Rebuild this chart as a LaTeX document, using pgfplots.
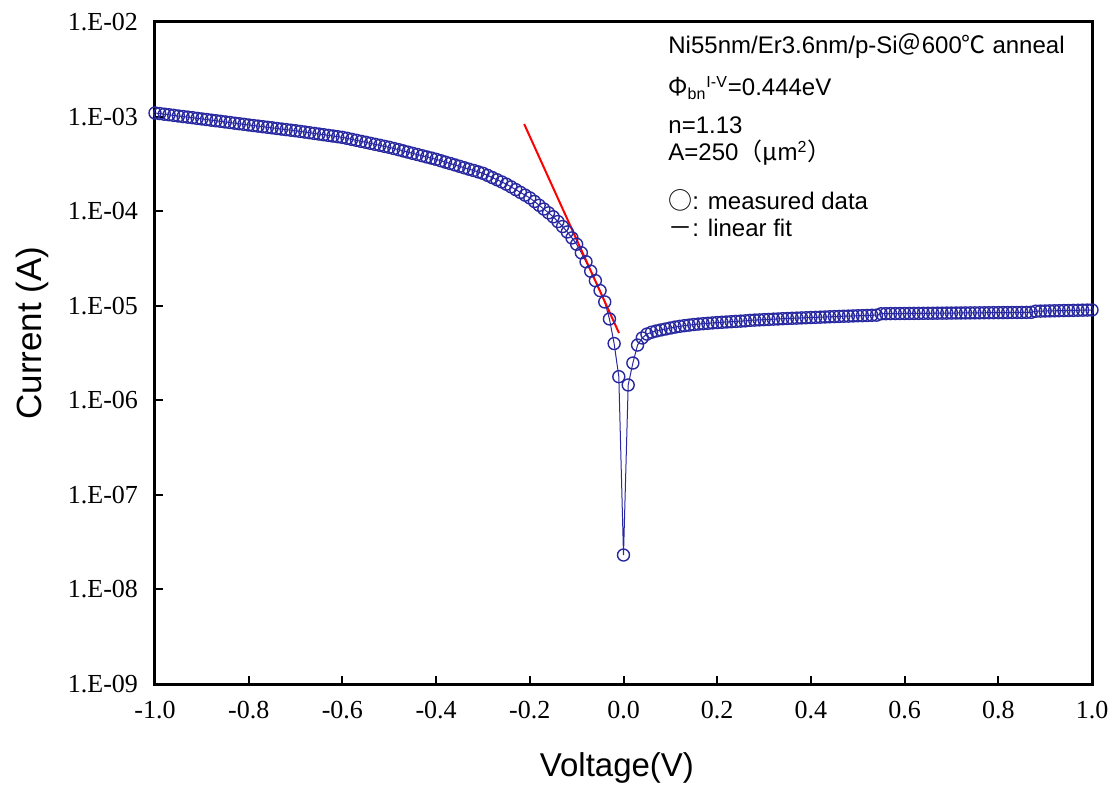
\documentclass[border=0pt]{standalone}
\usepackage{fontspec}
\setmainfont{Liberation Serif}
\newfontfamily\arial{Liberation Sans}
\newfontfamily\cjk{Noto Sans CJK SC}
\usepackage{pgfplots}
\usepackage{pgfplotstable}
\pgfplotsset{compat=1.18}
\definecolor{dblue}{RGB}{40,40,160}

% measured I-V, step 0.01 V
\pgfplotstableread{
V I
-1.00 1.091e-3
-0.99 1.076e-3
-0.98 1.059e-3
-0.97 1.045e-3
-0.96 1.030e-3
-0.95 1.014e-3
-0.94 1.000e-3
-0.93 9.863e-4
-0.92 9.727e-4
-0.91 9.572e-4
-0.90 9.441e-4
-0.89 9.311e-4
-0.88 9.162e-4
-0.87 9.036e-4
-0.86 8.913e-4
-0.85 8.770e-4
-0.84 8.650e-4
-0.83 8.511e-4
-0.82 8.395e-4
-0.81 8.279e-4
-0.80 8.147e-4
-0.79 8.035e-4
-0.78 7.925e-4
-0.77 7.816e-4
-0.76 7.709e-4
-0.75 7.603e-4
-0.74 7.482e-4
-0.73 7.379e-4
-0.72 7.278e-4
-0.71 7.178e-4
-0.70 7.079e-4
-0.69 6.966e-4
-0.68 6.855e-4
-0.67 6.745e-4
-0.66 6.637e-4
-0.65 6.531e-4
-0.64 6.427e-4
-0.63 6.324e-4
-0.62 6.223e-4
-0.61 6.124e-4
-0.60 6.026e-4
-0.59 5.888e-4
-0.58 5.741e-4
-0.57 5.610e-4
-0.56 5.470e-4
-0.55 5.346e-4
-0.54 5.212e-4
-0.53 5.082e-4
-0.52 4.966e-4
-0.51 4.842e-4
-0.50 4.732e-4
-0.49 4.592e-4
-0.48 4.467e-4
-0.47 4.335e-4
-0.46 4.207e-4
-0.45 4.083e-4
-0.44 3.972e-4
-0.43 3.855e-4
-0.42 3.741e-4
-0.41 3.639e-4
-0.40 3.532e-4
-0.39 3.412e-4
-0.38 3.296e-4
-0.37 3.192e-4
-0.36 3.083e-4
-0.35 2.979e-4
-0.34 2.877e-4
-0.33 2.780e-4
-0.32 2.692e-4
-0.31 2.600e-4
-0.30 2.512e-4
-0.29 2.388e-4
-0.28 2.265e-4
-0.27 2.148e-4
-0.26 2.037e-4
-0.25 1.928e-4
-0.24 1.807e-4
-0.23 1.690e-4
-0.22 1.578e-4
-0.21 1.476e-4
-0.20 1.380e-4
-0.19 1.265e-4
-0.18 1.153e-4
-0.17 1.052e-4
-0.16 9.594e-5
-0.15 8.710e-5
-0.14 7.762e-5
-0.13 6.871e-5
-0.12 6.026e-5
-0.11 5.212e-5
-0.10 4.467e-5
-0.09 3.631e-5
-0.08 2.917e-5
-0.07 2.317e-5
-0.06 1.841e-5
-0.05 1.445e-5
-0.04 1.096e-5
-0.03 7.244e-6
-0.02 3.981e-6
-0.01 1.778e-6
0.00 2.312e-8
0.01 1.452e-6
0.02 2.477e-6
0.03 3.837e-6
0.04 4.560e-6
0.05 5.012e-6
0.06 5.248e-6
0.07 5.408e-6
0.08 5.546e-6
0.09 5.675e-6
0.10 5.808e-6
0.11 5.943e-6
0.12 6.053e-6
0.13 6.152e-6
0.14 6.237e-6
0.15 6.324e-6
0.16 6.397e-6
0.17 6.457e-6
0.18 6.516e-6
0.19 6.577e-6
0.20 6.637e-6
0.21 6.683e-6
0.22 6.730e-6
0.23 6.776e-6
0.24 6.823e-6
0.25 6.871e-6
0.26 6.918e-6
0.27 6.998e-6
0.28 7.047e-6
0.29 7.079e-6
0.30 7.129e-6
0.31 7.161e-6
0.32 7.211e-6
0.33 7.244e-6
0.34 7.295e-6
0.35 7.328e-6
0.36 7.362e-6
0.37 7.396e-6
0.38 7.430e-6
0.39 7.464e-6
0.40 7.499e-6
0.41 7.534e-6
0.42 7.568e-6
0.43 7.603e-6
0.44 7.638e-6
0.45 7.674e-6
0.46 7.709e-6
0.47 7.745e-6
0.48 7.762e-6
0.49 7.798e-6
0.50 7.834e-6
0.51 7.852e-6
0.52 7.889e-6
0.53 7.925e-6
0.54 7.943e-6
0.55 8.222e-6
0.56 8.241e-6
0.57 8.250e-6
0.58 8.259e-6
0.59 8.267e-6
0.60 8.276e-6
0.61 8.285e-6
0.62 8.293e-6
0.63 8.302e-6
0.64 8.311e-6
0.65 8.319e-6
0.66 8.328e-6
0.67 8.337e-6
0.68 8.345e-6
0.69 8.354e-6
0.70 8.363e-6
0.71 8.372e-6
0.72 8.380e-6
0.73 8.389e-6
0.74 8.398e-6
0.75 8.406e-6
0.76 8.415e-6
0.77 8.424e-6
0.78 8.432e-6
0.79 8.441e-6
0.80 8.450e-6
0.81 8.459e-6
0.82 8.467e-6
0.83 8.476e-6
0.84 8.485e-6
0.85 8.493e-6
0.86 8.502e-6
0.87 8.511e-6
0.88 8.750e-6
0.89 8.772e-6
0.90 8.794e-6
0.91 8.817e-6
0.92 8.839e-6
0.93 8.861e-6
0.94 8.883e-6
0.95 8.905e-6
0.96 8.928e-6
0.97 8.950e-6
0.98 8.972e-6
0.99 8.994e-6
1.00 9.016e-6
}\ivdata

\begin{document}
\begin{tikzpicture}
\begin{axis}[
  scale only axis, width=468.5pt, height=331pt,
  ymode=log,
  xmin=-1, xmax=1, ymin=1e-9, ymax=1e-2,
  xtick={-1,-0.8,-0.6,-0.4,-0.2,0,0.2,0.4,0.6,0.8,1},
  xticklabels={-1.0,-0.8,-0.6,-0.4,-0.2,0.0,0.2,0.4,0.6,0.8,1.0},
  ytick={1e-9,1e-8,1e-7,1e-6,1e-5,1e-4,1e-3,1e-2},
  yticklabels={1.E-09,1.E-08,1.E-07,1.E-06,1.E-05,1.E-04,1.E-03,1.E-02},
  yminorticks=false, xminorticks=false,
  tick align=inside, xtick pos=bottom, ytick pos=left,
  major tick length=4pt,
  tick style={black, line width=1pt},
  axis line style={line width=1.5pt},
  ticklabel style={font=\fontsize{13}{15}\selectfont},
  xticklabel style={yshift=-5pt},
  yticklabel style={xshift=-5pt},
  xlabel={\arial Voltage(V)},
  ylabel={\arial Current (A)},
  xlabel style={font=\fontsize{16.5}{19}\selectfont, at={(axis description cs:0.493,-0.127)}, anchor=center},
  ylabel style={font=\fontsize{17.5}{20}\selectfont, at={(axis description cs:-0.131,0.53)}, anchor=center, rotate=0},
  clip=false,
]
\addplot[dblue, line width=0.5pt, mark=o, mark size=3pt,
  mark options={line width=0.7pt}] table[x=V, y=I] {\ivdata};
\addplot[red, line width=1pt] coordinates {(-0.212,8.34e-4) (-0.0096,5.14e-6)};

\begin{scope}[every node/.style={anchor=west, inner sep=0pt,
    font=\arial\fontsize{12}{14}\selectfont}]
\node at (rel axis cs:0.5475,0.9637) {Ni55nm/Er3.6nm/p-Si{\cjk ＠}600{\cjk ℃} anneal};
\node at (rel axis cs:0.5475,0.9003) {{\cjk Φ}\textsubscript{bn}\textsuperscript{I-V}=0.444eV};
\node at (rel axis cs:0.5475,0.8444) {n=1.13};
\node at (rel axis cs:0.5475,0.8021) {A=250{\cjk （μ}m\textsuperscript{2}{\cjk ）}};
\node at (rel axis cs:0.5475,0.7311) {{\cjk ○}: measured data};
\node at (rel axis cs:0.5475,0.6888) {{\cjk －}: linear fit};
\end{scope}

\coordinate (bbl) at (rel axis cs:-0.1654,-0.1631);
\coordinate (btr) at (rel axis cs:1.0224,1.0332);
\end{axis}
\pgfresetboundingbox
\path[use as bounding box] (bbl) rectangle (btr);
\end{tikzpicture}
\end{document}
